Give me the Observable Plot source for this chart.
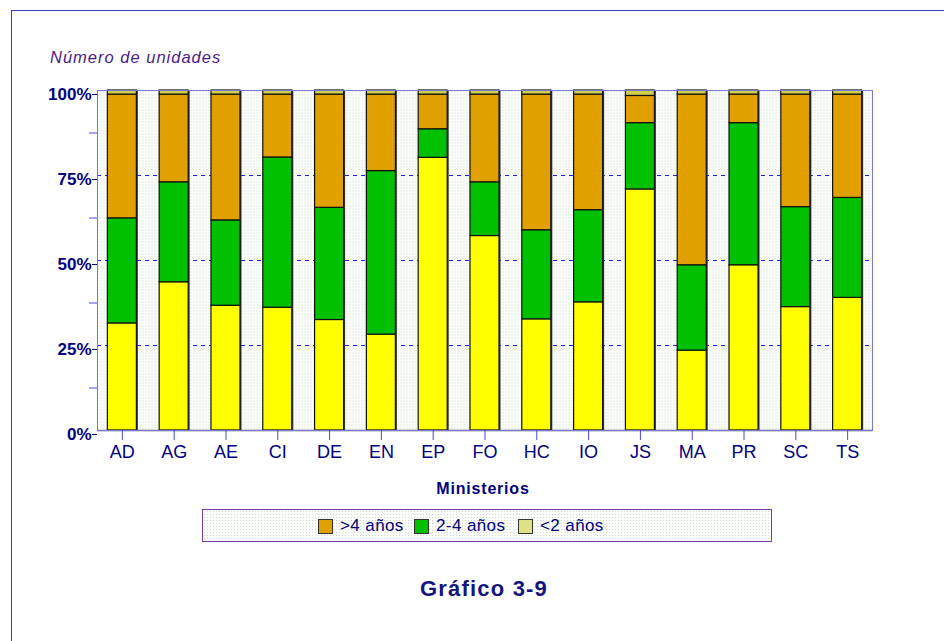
<!DOCTYPE html>
<html>
<head>
<meta charset="utf-8">
<script src="https://cdn.jsdelivr.net/npm/d3@7"></script>
<script src="https://cdn.jsdelivr.net/npm/@observablehq/plot@0.6"></script>
<style>
  html, body { margin: 0; padding: 0; background: #fff; }
  #page { position: relative; width: 944px; height: 641px; overflow: hidden; font-family: "Liberation Sans", Arial, sans-serif; }
  #border { position: absolute; left: 11px; top: 10px; width: 940px; height: 640px; border-left: 1px solid #3a3ac8; border-top: 1px solid #3a3ac8; }
  #chart { position: absolute; left: 0; top: 0; }
  #ytitle { position: absolute; left: 50px; top: 48px; font-size: 16.5px; font-style: italic; letter-spacing: 1px; color: #4b1a8c; }
  #xtitle { position: absolute; left: 0; width: 966px; top: 480px; text-align: center; font-size: 16px; letter-spacing: 0.8px; font-weight: bold; color: #000080; }
  #legend { position: absolute; left: 202px; top: 509px; width: 568px; height: 31px; border: 1px solid #7a3aa8; box-sizing: content-box;
            background-color: #fbfdfb; background-image: radial-gradient(#cfdccf 0.8px, transparent 0.9px); background-size: 3px 3px;
            font-size: 17px; letter-spacing: 0.4px; color: #000080; }
  .item { display: flex; align-items: center; position: absolute; top: 6px; }
  .sw { width: 13px; height: 13px; border: 1px solid #333; margin-right: 7px; }
  #caption { position: absolute; left: 0; width: 968px; top: 576px; text-align: center; font-size: 22px; letter-spacing: 1.2px; font-weight: bold; color: #141480; }
</style>
</head>
<body>
<div id="page">
  <div id="border"></div>
  <div id="chart"></div>
  <div id="ytitle">Número de unidades</div>
  <div id="xtitle">Ministerios</div>
  <div id="legend"></div>
  <div id="caption">Gráfico 3-9</div>
</div>
<script>
const ministerios = ["AD","AG","AE","CI","DE","EN","EP","FO","HC","IO","JS","MA","PR","SC","TS"];
const menos2 = [31.5,43.6,36.7,36.1,32.5,28.2,80.2,57.2,32.7,37.7,70.9,23.5,48.6,36.3,39.0];
const de2a4  = [30.9,29.4,25.1,44.2,33.0,48.1,8.4,15.8,26.2,27.1,19.5,25.1,41.8,29.4,29.4];
const mas4   = [36.4,25.8,37.0,18.5,33.3,22.5,10.2,25.8,39.9,34.0,8.0,50.2,8.4,33.1,30.4];
const resto  = [1.2,1.2,1.2,1.2,1.2,1.2,1.2,1.2,1.2,1.2,1.6,1.2,1.2,1.2,1.2];
const yTicks = [0,25,50,75,100];
const yMinor = [12.5,37.5,62.5,87.5];
const seriesNames = ["<2 años","2-4 años",">4 años","resto"];
const seriesColors = ["#ffff00","#00c000","#e0a000","#d0d048"];
const legendItems = [">4 años","2-4 años","<2 años"];
const legendColors = ["#e0a000","#00c000","#e0e084"];
const legendLefts = [115, 211, 315];

const seriesValues = [menos2, de2a4, mas4, resto];
const data = [];
ministerios.forEach((m, i) => {
  seriesNames.forEach((s, j) => data.push({ministerio: m, serie: s, valor: seriesValues[j][i]}));
});

const chart = Plot.plot({
  width: 944,
  height: 470,
  marginLeft: 97,
  marginRight: 72,
  marginTop: 90,
  marginBottom: 40,
  style: { fontFamily: "Liberation Sans, Arial, sans-serif", background: "transparent", overflow: "visible" },
  x: { domain: ministerios, paddingInner: 0.44, paddingOuter: 0.2, round: false, label: null },
  y: { domain: [0, 100], label: null },
  color: { domain: seriesNames, range: seriesColors },
  marks: [
    Plot.frame({ fill: "url(#dots)", stroke: "none" }),
    Plot.gridY([25, 50, 75], { stroke: "#1f1ff5", strokeOpacity: 1, strokeDasharray: "4,4", strokeWidth: 1, style: "shape-rendering: crispEdges" }),
    Plot.barY(data, {
      x: "ministerio", y: "valor", z: "serie", order: seriesNames, fill: "#333", dx: 1.5
    }),
    Plot.barY(data, {
      x: "ministerio", y: "valor", fill: "serie",
      order: seriesNames, stroke: "#111", strokeWidth: 1.2
    }),
    Plot.ruleY([0], { stroke: "#555", strokeWidth: 1.5 }),
    Plot.frame({ stroke: "#7878d8", strokeWidth: 1 }),
    Plot.axisY(yTicks, {
      tickFormat: d => d + "%", tickSize: 5, tickPadding: 1, dy: 4,
      fontSize: 17, fontWeight: "bold", fill: "#000080", stroke: "#000080", label: null
    }),
    Plot.axisY(yMinor, { tickSize: 8, tickFormat: () => "", stroke: "#4848d8", label: null }),
    Plot.axisX({
      tickSize: 10, tickPadding: 5, fontSize: 18, fill: "#000080", stroke: "#4848d8", label: null
    })
  ]
});

const defs = document.createElementNS("http://www.w3.org/2000/svg", "defs");
defs.innerHTML = '<pattern id="dots" width="3" height="3" patternUnits="userSpaceOnUse">' +
  '<rect width="3" height="3" fill="#fbfdfb"/><rect x="1" y="1" width="1" height="1" fill="#c9d9c9"/></pattern>';
chart.insertBefore(defs, chart.firstChild);
document.getElementById("chart").appendChild(chart);

const legend = document.getElementById("legend");
legendItems.forEach((name, i) => {
  const it = document.createElement("div");
  it.className = "item";
  it.style.left = legendLefts[i] + "px";
  const sw = document.createElement("div");
  sw.className = "sw";
  sw.style.background = legendColors[i];
  const tx = document.createElement("span");
  tx.textContent = name;
  it.appendChild(sw); it.appendChild(tx);
  legend.appendChild(it);
});
</script>
</body>
</html>
